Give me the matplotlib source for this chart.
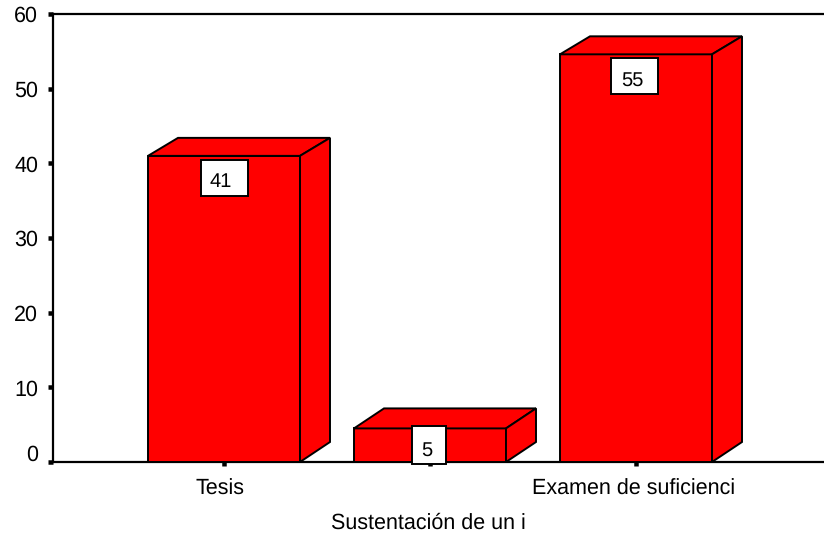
import matplotlib
matplotlib.use('Agg')
import matplotlib.pyplot as plt
import matplotlib.transforms as mtrans
from matplotlib.patches import Polygon, Rectangle

plt.rcParams['font.family'] = ['Liberation Sans', 'DejaVu Sans']
plt.rcParams['text.hinting'] = 'no_hinting'

categories = ['Tesis', '', 'Examen de suficienci']
values = [41.0, 4.5, 54.6]
labels = ['41', '5', '55']
# value boxes, px relative to the middle of each bar's top edge
box_offsets = [(0.5, -22), (-1, -17), (-1.5, -22)]
box_sizes = [(47, 36), (34, 38), (47, 36)]
text_offsets = [(-3, -26), (-3.5, -22.5), (-3.5, -26)]
cat_shift = [-4, 0, -2]  # px sideways for tick labels
top_depth = [18, 20, 18]  # px, box depth at the top of each bar
y_ticks = [0, 10, 20, 30, 40, 50, 60]
x_title = 'Sustentación de un i'

W, H = 824, 533
px = 72 / 100  # one pixel in points
RED = '#ff0000'
EDGE = 1.4
FS = 15.5

fig = plt.figure(figsize=(W / 100, H / 100), dpi=100)
ax = fig.add_axes([53 / W, (H - 462) / H, (W - 53) / W, 448 / H])

x = list(range(len(values)))
barw = 152 / 206
depth_x = 30 / 206
unit_y = 448 / 60  # px per y unit
bottom_depth = 20 / unit_y

ax.set_xlim((53 - 224) / 206, (W - 224) / 206)
ax.set_ylim(0, 60)

ax.bar(x, values, width=barw, color=RED, edgecolor='black', linewidth=EDGE, zorder=3)

# top and side faces of the boxes
for xi, v, d in zip(x, values, top_depth):
    l, r = xi - barw / 2, xi + barw / 2
    dy = d / unit_y
    top = [(l, v), (l + depth_x, v + dy), (r + depth_x, v + dy), (r, v)]
    side = [(r, 0), (r + depth_x, bottom_depth), (r + depth_x, v + dy), (r, v)]
    for face in (top, side):
        ax.add_patch(Polygon(face, closed=True, facecolor=RED, edgecolor='black',
                             linewidth=EDGE, joinstyle='miter', zorder=3))

for xi, v, lab, bo, bs, to in zip(x, values, labels, box_offsets, box_sizes, text_offsets):
    anchor = mtrans.Affine2D().translate(*ax.transData.transform((xi, v)))
    ax.add_patch(Rectangle((bo[0] - bs[0] / 2, bo[1] - bs[1] / 2), bs[0], bs[1], transform=anchor,
                           facecolor='white', edgecolor='black', linewidth=EDGE,
                           zorder=5, clip_on=False))
    ax.annotate(lab, xy=(xi, v), xytext=(to[0] * px, to[1] * px), textcoords='offset points',
                ha='center', va='center', fontsize=14.5, zorder=6, annotation_clip=False)

ax.spines['right'].set_visible(False)
for s in ('left', 'top', 'bottom'):
    ax.spines[s].set_linewidth(1.6)

ax.set_xticks(x)
ax.set_xticklabels(categories)
ax.set_yticks(y_ticks)
ax.tick_params(axis='y', length=5 * px, width=4.5 * px, pad=10 * px, labelsize=FS)
ax.tick_params(axis='x', length=4 * px, width=4.5 * px, pad=13 * px, labelsize=FS)

for lab, sh in zip(ax.get_xticklabels(), cat_shift):
    lab.set_transform(lab.get_transform() + mtrans.ScaledTranslation(sh / 100, 0, fig.dpi_scale_trans))

# the 0 label sits above its tick in the reference
zero = ax.get_yticklabels()[0]
zero.set_transform(zero.get_transform() + mtrans.ScaledTranslation(0, 9 / 100, fig.dpi_scale_trans))

ax.set_xlabel(x_title, fontsize=FS, labelpad=13.5 * px, x=(428 - 53) / (W - 53))

fig.savefig('out.png', dpi=100, facecolor='white')
